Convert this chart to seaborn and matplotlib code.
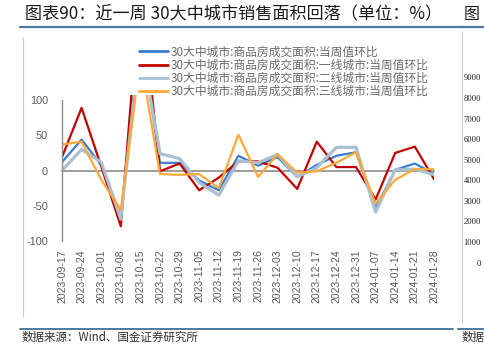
import matplotlib
matplotlib.use("Agg")
import matplotlib.pyplot as plt
import seaborn as sns
import numpy as np
import pandas as pd
from matplotlib.lines import Line2D

# ---------------- data ----------------
dates = ["2023-09-17", "2023-09-24", "2023-10-01", "2023-10-08", "2023-10-15",
         "2023-10-22", "2023-10-29", "2023-11-05", "2023-11-12", "2023-11-19",
         "2023-11-26", "2023-12-03", "2023-12-10", "2023-12-17", "2023-12-24",
         "2023-12-31", "2024-01-07", "2024-01-14", "2024-01-21", "2024-01-28"]
all_city = [12, 44, 8, -65, 200, 11, 11, -14, -28, 21, 7, 19, -9, 8, 21, 26, -53, 1, 10, -5]
tier1 = [19, 89, 6, -79, 265, -1, 10, -28, -10, 13, 13, 4, -26, 41, 5, 5, -41, 25, 34, -13]
tier2 = [0, 30, 12, -69, 185, 24, 17, -17, -35, 14, 11, 23, -9, 4, 33, 33, -59, 1, 2, -6]
tier3 = [37, 41, -13, -56, 160, -5, -6, -5, -25, 51, -9, 23, -3, -1, 11, 26, -47, -13, 2, 2]
series_names = ["30大中城市:商品房成交面积:当周值环比",
                "30大中城市:商品房成交面积:一线城市:当周值环比",
                "30大中城市:商品房成交面积:二线城市:当周值环比",
                "30大中城市:商品房成交面积:三线城市:当周值环比"]
y_ticks = [-100, -50, 0, 50, 100]
right_ticks = [0, 1000, 2000, 3000, 4000, 5000, 6000, 7000, 8000, 9000]
title_text = "图表90：近一周 30大中城市销售面积回落（单位：%）"
source_text = "数据来源：Wind、国金证券研究所"

# ---------------- style ----------------
colors = ["#3b7dd0", "#c00000", "#a9c0cf", "#ffa83a"]
widths = [1.6, 1.6, 2.3, 1.6]

sns.set_style("white")
plt.rcParams["font.family"] = ["Noto Sans CJK SC", "DejaVu Sans"]

W, H = 485, 356
fig = plt.figure(figsize=(W / 100, H / 100), dpi=100)
fig.patch.set_facecolor("white")


def fx(px):
    return px / W


def fy(py):
    return 1 - py / H


ax = fig.add_axes([fx(62), fy(241), fx(434.4) - fx(62), fy(94.5) - fy(241)])
ax.set_facecolor("none")

x_idx = np.arange(len(dates))
for vals, name, c, lw in zip([all_city, tier1, tier2, tier3], series_names, colors, widths):
    sns.lineplot(x=x_idx, y=vals, color=c, linewidth=lw, ax=ax, label=name, legend=False)

ax.set_xlim(0, len(dates) - 1)
ax.set_ylim(-100, 108)

# spines
for s in ["top", "right"]:
    ax.spines[s].set_visible(False)
ax.spines["left"].set_bounds(-100, 100)
ax.spines["left"].set_color("#8c8c8c")
ax.spines["left"].set_linewidth(1.0)
ax.spines["bottom"].set_position(("data", 0))
ax.spines["bottom"].set_color("#8c8c8c")
ax.spines["bottom"].set_linewidth(1.2)
ax.spines["bottom"].set_zorder(0.5)

ax.set_yticks(y_ticks)
ax.set_yticklabels([str(v) for v in y_ticks], family="Liberation Sans")
ax.tick_params(axis="y", direction="out", length=3, width=1, color="#8c8c8c",
               labelsize=7.8, labelcolor="#595959", pad=7)
ax.set_xticks(x_idx)
ax.tick_params(axis="x", direction="out", length=2.5, width=1, color="#8c8c8c",
               labelbottom=False)
ax.set_xlabel("")
ax.set_ylabel("")

sec = ax.secondary_xaxis("bottom")
sec.set_xticks(x_idx)
sec.set_xticklabels(dates, rotation=90, family="Liberation Sans")
sec.tick_params(length=0, pad=6, labelsize=7.5, labelcolor="#595959")
sec.spines["bottom"].set_visible(False)

# legend
handles = [Line2D([], [], color=c, lw=2.0) for c in colors]
leg = fig.legend(handles, series_names, loc="upper left",
                 bbox_to_anchor=(fx(139), fy(45.5)), frameon=False,
                 fontsize=8.5, handlelength=2.45, handletextpad=0.2,
                 labelspacing=0.02, borderpad=0, borderaxespad=0,
                 labelcolor="#6b6b6b")

# title, separators, frames
fig.text(fx(25), fy(14), title_text, fontsize=12.3, color="#1a1a1a",
         va="center", ha="left", style="italic")
fig.text(fx(464), fy(14), "图", fontsize=11.5, color="#1a1a1a",
         va="center", ha="left", style="italic")
fig.add_artist(Line2D([fx(20), fx(485)], [fy(27), fy(27)], color="#4f7a9e", lw=1.6))
fig.add_artist(Line2D([fx(20), fx(453)], [fy(329), fy(329)], color="#4f7a9e", lw=1.4))
fig.add_artist(Line2D([fx(458), fx(485)], [fy(329), fy(329)], color="#4f7a9e", lw=1.4))
fig.add_artist(Line2D([fx(22.7), fx(22.7)], [fy(37), fy(317)], color="#cfcfcf", lw=0.8))
fig.add_artist(Line2D([fx(461.7), fx(461.7)], [fy(31), fy(322)], color="#cfcfcf", lw=0.8))

fig.text(fx(22), fy(337), source_text, fontsize=8.3, color="#333333",
         va="center", ha="left")
fig.text(fx(462), fy(337), "数据", fontsize=8.3, color="#333333",
         va="center", ha="left")

# partial neighbouring chart on the right (only its y tick labels are visible)
ax2 = fig.add_axes([fx(485), fy(262.7), 0.1, fy(77.3) - fy(262.7)])
ax2.set_ylim(0, 9000)
ax2.set_yticks(right_ticks)
ax2.set_yticklabels([str(v) for v in right_ticks], family="Liberation Serif")
ax2.tick_params(axis="y", length=0, labelsize=6.2, labelcolor="#222222", pad=3)
ax2.set_xticks([])
for s in ax2.spines.values():
    s.set_visible(False)
ax2.set_facecolor("none")

fig.savefig("out.png", dpi=100, facecolor="white")
